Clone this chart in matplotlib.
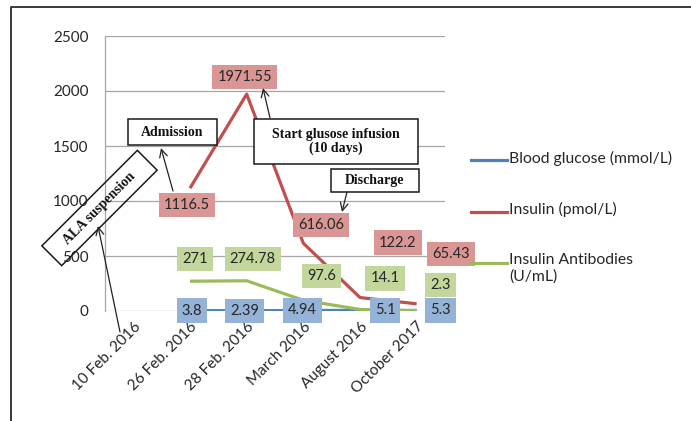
import numpy as np
import matplotlib
matplotlib.use('Agg')
import matplotlib.pyplot as plt
import matplotlib.transforms as mtransforms
from matplotlib.patches import Rectangle, FancyArrowPatch
from matplotlib.lines import Line2D

# data
dates = ['10 Feb. 2016', '26 Feb. 2016', '28 Feb. 2016', 'March 2016', 'August 2016', 'October 2017']
glucose = [np.nan, 3.8, 2.39, 4.94, 5.1, 5.3]
insulin = [np.nan, 1116.5, 1971.55, 616.06, 122.2, 65.43]
antibodies = [np.nan, 271, 274.78, 97.6, 14.1, 2.3]

series_names = ['Blood glucose (mmol/L)', 'Insulin (pmol/L)', 'Insulin Antibodies\n(U/mL)']
line_colors = ['#4f81bd', '#c0504d', '#9bbb59']
box_colors = ['#95b3d7', '#d99694', '#c3d69b']

# where each data label sits relative to its point (pixels)
glucose_offsets = [None, (2, 0), (-2, 0), (-1, 0), (25, 0), (24, 0)]
insulin_offsets = [None, (-3, -17), (-2, 17), (18, 18), (38, 55), (34, 50)]
antibody_offsets = [None, (5, 22), (6, 22), (18, 24), (25, 31), (24, 26)]

W, H = 691, 421
plt.rcParams['font.family'] = ['Lato', 'DejaVu Sans']
fig = plt.figure(figsize=(W / 100, H / 100), dpi=100)
ax = fig.add_axes([105 / W, (H - 311) / H, 340 / W, 275 / H])

x = np.arange(len(dates))
all_series = [glucose, insulin, antibodies]
all_offsets = [glucose_offsets, insulin_offsets, antibody_offsets]

for vals, col, z in zip(all_series, line_colors, [3, 4, 5]):
    ax.plot(x, vals, color=col, lw=2.3, zorder=z, solid_capstyle='butt')

for vals, offs, bc in zip(all_series, all_offsets, box_colors):
    for i, v in enumerate(vals):
        if np.isnan(v):
            continue
        ax.annotate(f'{v:g}', xy=(i, v), xytext=offs[i], textcoords='offset pixels',
                    ha='center', va='center', fontsize=10.5, color='#262626',
                    bbox=dict(boxstyle='square,pad=0.35', fc=bc, ec='none'),
                    annotation_clip=False, zorder=10)

ax.set_xlim(-0.5, len(dates) - 0.5)
ax.set_ylim(0, 2500)
ax.set_yticks(range(0, 2501, 500))
ax.set_xticks(x)
ax.set_xticklabels(dates, rotation=45, ha='right', rotation_mode='anchor')
ax.tick_params(axis='both', length=0, labelsize=11, labelcolor='#262626')
ax.tick_params(axis='y', pad=12)
ax.tick_params(axis='x', pad=6)
ax.yaxis.grid(True, color='#a6a6a6', lw=0.9)
ax.set_axisbelow(True)
for s in ['top', 'right', 'bottom']:
    ax.spines[s].set_visible(False)
ax.spines['left'].set_color('#a6a6a6')
ax.spines['left'].set_linewidth(0.9)

# pixel transform, origin top-left
pxT = mtransforms.Affine2D().scale(1 / fig.dpi, -1 / fig.dpi).translate(0, H / fig.dpi) + fig.dpi_scale_trans

# legend on the right
for k, (name, col) in enumerate(zip(series_names, line_colors)):
    yy = 160 + k * 51.5
    fig.add_artist(Line2D([471, 507], [yy, yy], color=col, lw=2.3, transform=pxT))
    fig.text(509, yy - 9.5, name, transform=pxT, ha='left', va='top', fontsize=11.3,
             color='#262626', linespacing=1.2)

# event notes
serif = dict(family='Liberation Serif', weight='bold', fontsize=10, color='#111111')

def note(cx, cy, w, h, text, angle=0, fill='white'):
    fig.add_artist(Rectangle((cx - w / 2, cy - h / 2), w, h, angle=-angle, rotation_point='center',
                             fc=fill, ec='#1a1a1a', lw=1.1, transform=pxT, zorder=6))
    fig.text(cx, cy, text, transform=pxT, ha='center', va='center', rotation=angle,
             rotation_mode='anchor', linespacing=1.1, zorder=7, **serif)

def arrow(p0, p1):
    fig.add_artist(FancyArrowPatch(p0, p1, arrowstyle='->', mutation_scale=14, lw=0.9,
                                   color='#222222', shrinkA=0, shrinkB=0, transform=pxT, zorder=6))

note(172.5, 132, 89, 26, 'Admission')
note(336, 141.5, 164, 45, 'Start glusose infusion\n(10 days)')
note(375, 180.5, 88, 23, 'Discharge')
note(99.5, 208, 135, 28, 'ALA suspension', angle=45, fill='none')

arrow((173, 191), (161, 148))
arrow((270, 118), (263, 88))
arrow((347, 192), (342, 212))
arrow((120, 332), (98, 226))

# outer frame
fig.add_artist(Line2D([11, 11, 691], [421, 7, 7], color='#3a3a3a', lw=1.4, transform=pxT))

fig.savefig('out.png', dpi=100)
